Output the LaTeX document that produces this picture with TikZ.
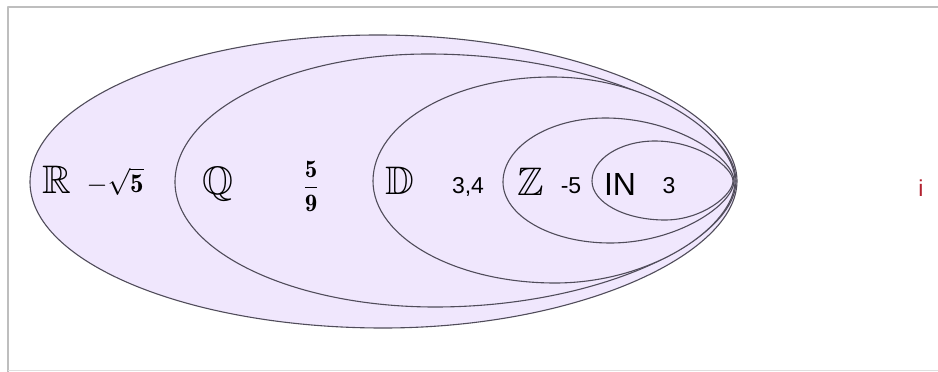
\RequirePackage{fix-cm}
\documentclass[tikz,border=0pt]{standalone}
\usepackage{amsmath,amssymb}
\usepackage{fontspec}
\setsansfont{Liberation Sans}

\definecolor{setfill}{RGB}{240,231,253}
\definecolor{setline}{RGB}{80,76,90}
\definecolor{framegray}{RGB}{190,190,190}
\definecolor{ired}{RGB}{178,34,48}

\begin{document}
\begin{tikzpicture}[x=1pt, y=-1pt, line join=round,
  setedge/.style={draw=setline, line width=1.1pt, fill=setfill},
  bbletter/.style={inner sep=0pt, anchor=base},
  numlabel/.style={inner sep=0pt, anchor=base, font=\sffamily\fontsize{23}{27}\selectfont}]

  % ── frame of the picture ──
  \draw[framegray, line width=2pt] (8,372) -- (8,7) -- (938,7);
  \draw[framegray!50, line width=1pt] (8,370) -- (938,370);

  % ── nested sets: right end shared near (735,181) ──
  % R
  \draw[setedge] (737,181) .. controls (737,108) and (575.5,35) .. (378,35)
    .. controls (186.6,35) and (30,101.1) .. (30,182)
    .. controls (30,262.3) and (188.8,328) .. (383,328)
    .. controls (577.7,328) and (737,254.5) .. (737,181) -- cycle;
  % Q
  \draw[setedge] (736,181) .. controls (736,122) and (597.4,54) .. (428,54)
    .. controls (288.8,54) and (175,111.6) .. (175,182)
    .. controls (175,250.8) and (292,307) .. (435,307)
    .. controls (600.6,307) and (736,240) .. (736,181) -- cycle;
  % D
  \draw[setedge] (735,181) .. controls (735,137) and (652.7,77) .. (552,77)
    .. controls (453.5,77) and (373,123.8) .. (373,181)
    .. controls (373,237.1) and (454.9,283) .. (555,283)
    .. controls (654,283) and (735,225) .. (735,181) -- cycle;
  % Z
  \draw[setedge] (734,181) .. controls (734,158) and (676,118) .. (605,118)
    .. controls (548.9,118) and (503,146.8) .. (503,182)
    .. controls (503,215.6) and (551.1,243) .. (610,243)
    .. controls (678.2,243) and (734,204) .. (734,181) -- cycle;
  % N
  \draw[setedge] (733,181) .. controls (733,167) and (697.9,141) .. (655,141)
    .. controls (620.3,141) and (592,159) .. (592,181)
    .. controls (592,202.5) and (624.8,220) .. (665,220)
    .. controls (702.4,220) and (733,195) .. (733,181) -- cycle;

  % ── set names and elements ──
  \node[bbletter] (setR) at (57,193) {\scalebox{1.6}{\Huge$\mathbb{R}$}};
  \node[inner sep=0pt, anchor=base] (sqrtfive) at (115,192)
    {\fontsize{27}{30}\selectfont$-\sqrt{\mathbf{5}}$};
  \node[bbletter] (setQ) at (218,194) {\scalebox{1.6}{\Huge$\mathbb{Q}$}};
  \node[inner sep=0pt] (fivenine) at (311,186) {\scalebox{2.5}{$\dfrac{\mathbf{5}}{\mathbf{9}}$}};
  \node[bbletter] (setD) at (400,194) {\scalebox{1.6}{\Huge$\mathbb{D}$}};
  \node[numlabel] (threefour) at (468,193) {3,4};
  \node[bbletter] (setZ) at (531,195) {\scalebox{1.6}{\Huge$\mathbb{Z}$}};
  \node[numlabel] (minusfive) at (571,193) {-5};
  \node[numlabel, font=\sffamily\fontsize{32}{36}\selectfont] (setN) at (620,195) {IN};
  \node[numlabel] (three) at (669,193) {3};
  \node[numlabel, text=ired] (imag) at (921,196) {i};

  \pgfresetboundingbox
  \path[use as bounding box] (0,0) rectangle (938,372);
\end{tikzpicture}
\end{document}
